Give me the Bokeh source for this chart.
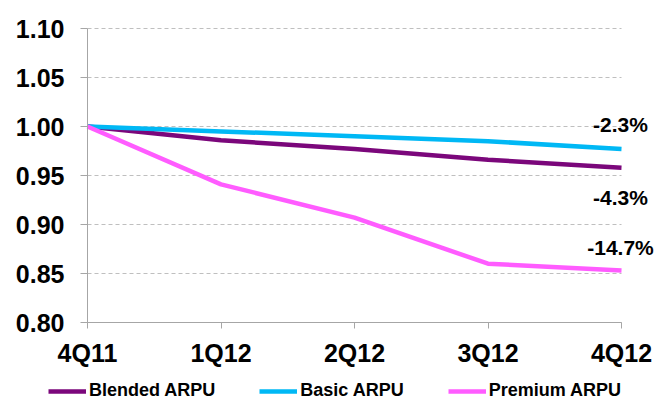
from bokeh.plotting import figure
from bokeh.models import (Range1d, FixedTicker, NumeralTickFormatter, ColumnDataSource,
                          LabelSet, Legend, LegendItem)
from bokeh.core.properties import value
from bokeh.embed import file_html
from bokeh.resources import INLINE

quarters = ["4Q11", "1Q12", "2Q12", "3Q12", "4Q12"]
blended = [1.000, 0.986, 0.977, 0.966, 0.958]
basic = [1.000, 0.995, 0.990, 0.985, 0.977]
premium = [1.000, 0.941, 0.907, 0.860, 0.853]

change_text = ["-2.3%", "-4.3%", "-14.7%"]
change_y = [1.002, 0.928, 0.877]

yticks = [0.80, 0.85, 0.90, 0.95, 1.00, 1.05, 1.10]
y_lo, y_hi = 0.80, 1.10

FONT = "Liberation Sans"
xs = list(range(len(quarters)))
n_last = len(quarters) - 1

# page geometry (pixels)
W, H = 657, 401
X0, X1 = 87, 621      # first / last category
Y_TOP, Y_BOT = 28, 322  # 1.10 / 0.80
px_x = (X1 - X0) / n_last
px_y = (Y_BOT - Y_TOP) / (y_hi - y_lo)

x_range = Range1d(-X0 / px_x, n_last + (W - X1) / px_x)
y_range = Range1d(y_lo - (H - Y_BOT) / px_y, y_hi + Y_TOP / px_y)

p = figure(width=W, height=H, output_backend="svg", toolbar_location=None,
           x_range=x_range, y_range=y_range,
           min_border=0, min_border_left=0, min_border_right=0,
           min_border_top=0, min_border_bottom=0)
p.outline_line_color = None
p.background_fill_color = "white"
p.border_fill_color = "white"

# axes
xa = p.xaxis[0]
xa.fixed_location = y_lo
xa.ticker = FixedTicker(ticks=xs)
xa.bounds = (0, n_last)
xa.major_label_overrides = {i: q for i, q in enumerate(quarters)}
xa.minor_tick_line_color = None
xa.major_tick_in = 0
xa.major_tick_out = 6
xa.axis_line_color = "#A6A6A6"
xa.major_tick_line_color = "#A6A6A6"
xa.major_label_text_font = FONT
xa.major_label_text_font_style = "bold"
xa.major_label_text_font_size = "25px"
xa.major_label_text_color = "black"
xa.major_label_standoff = 10

ya = p.yaxis[0]
ya.fixed_location = 0
ya.ticker = FixedTicker(ticks=yticks)
ya.bounds = (y_lo, y_hi)
ya.formatter = NumeralTickFormatter(format="0.00")
ya.minor_tick_line_color = None
ya.major_tick_in = 0
ya.major_tick_out = 7
ya.axis_line_color = "#A6A6A6"
ya.major_tick_line_color = "#A6A6A6"
ya.major_label_text_font = FONT
ya.major_label_text_font_style = "bold"
ya.major_label_text_font_size = "25px"
ya.major_label_text_color = "black"
ya.major_label_standoff = 16

p.xgrid.grid_line_color = None
p.ygrid.grid_line_color = "#BFBFBF"
p.ygrid.grid_line_dash = "4 3"
p.ygrid.grid_line_width = 1
p.ygrid.cross_bounds = (0, n_last)

r1 = p.line(xs, blended, line_color="#7B077B", line_width=4.5)
r2 = p.line(xs, basic, line_color="#00B8F5", line_width=4.5)
r3 = p.line(xs, premium, line_color="#FF5CFF", line_width=4.5)

src = ColumnDataSource(dict(x=[n_last] * len(change_text), y=change_y, t=change_text))
labels = LabelSet(x="x", y="y", text="t", source=src, text_align="center", text_baseline="middle",
                  x_offset=-1, text_font=value(FONT), text_font_style="bold",
                  text_font_size="21px", text_color="black")
p.add_layout(labels)

legend = Legend(items=[LegendItem(label="Blended ARPU", renderers=[r1]),
                       LegendItem(label="Basic ARPU", renderers=[r2]),
                       LegendItem(label="Premium ARPU", renderers=[r3])],
                orientation="horizontal", location=(48, 0),
                label_text_font=FONT, label_text_font_style="bold", label_text_font_size="18px",
                label_text_color="black", glyph_width=38, glyph_height=18, label_standoff=3,
                spacing=44, padding=0, margin=0, border_line_color=None,
                background_fill_alpha=0)
p.add_layout(legend)

open("out.html", "w").write(file_html(p, INLINE))
